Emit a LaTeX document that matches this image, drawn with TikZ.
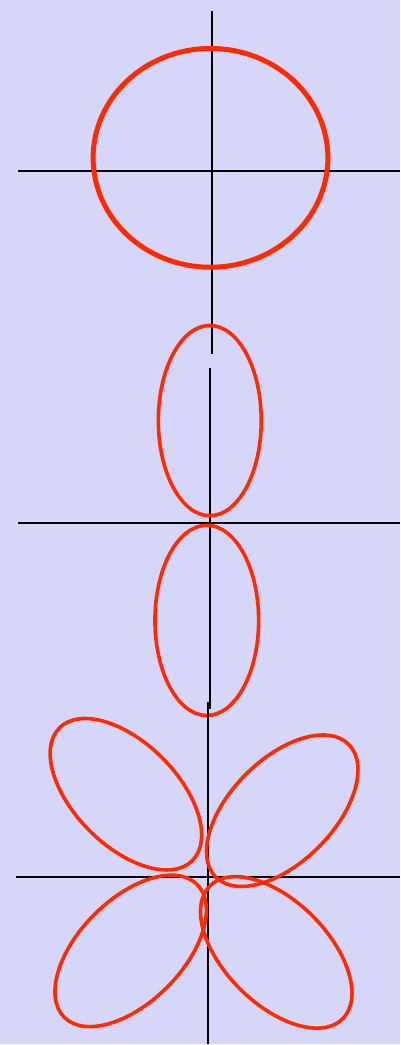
\documentclass[tikz,border=0pt]{standalone}
\usepackage{tikz}
\usepackage{xcolor}
\definecolor{lavender}{HTML}{D6D6FA}
\definecolor{lobered}{HTML}{FF2A00}

\begin{document}
\begin{tikzpicture}[x=1pt,y=1pt,
  axis/.style={black,line width=2pt},
  orbit/.style={lobered,line width=3.6pt},
  shell/.style={lobered,line width=5pt}]
\fill[lavender] (0,0) rectangle (400,1045);
% s shell
\draw[axis] (212.3,1034.3) -- (212.3,691);
\draw[axis] (18,874.3) -- (400,874.3);
\draw[shell] (210.7,887) ellipse [x radius=117.5,y radius=109.5];
% p lobes
\draw[axis] (210,677) -- (210,335);
\draw[axis] (18,521.7) -- (400,521.7);
\draw[orbit] (210,624) ellipse [x radius=51.5,y radius=95.2];
\draw[orbit] (207,424) ellipse [x radius=51.9,y radius=95.2];
% d lobes
\draw[axis] (207.7,342) -- (207.7,0);
\draw[axis] (16,167.3) -- (400,167.3);
\draw[orbit] (126,250) ellipse [x radius=94,y radius=51.5,rotate=-45];
\draw[orbit] (282.5,233.5) ellipse [x radius=94,y radius=51.5,rotate=45];
\draw[orbit] (130.8,93.2) ellipse [x radius=94,y radius=51.5,rotate=45];
\draw[orbit] (276.5,91.7) ellipse [x radius=94,y radius=51.5,rotate=-45];
\end{tikzpicture}
\end{document}
